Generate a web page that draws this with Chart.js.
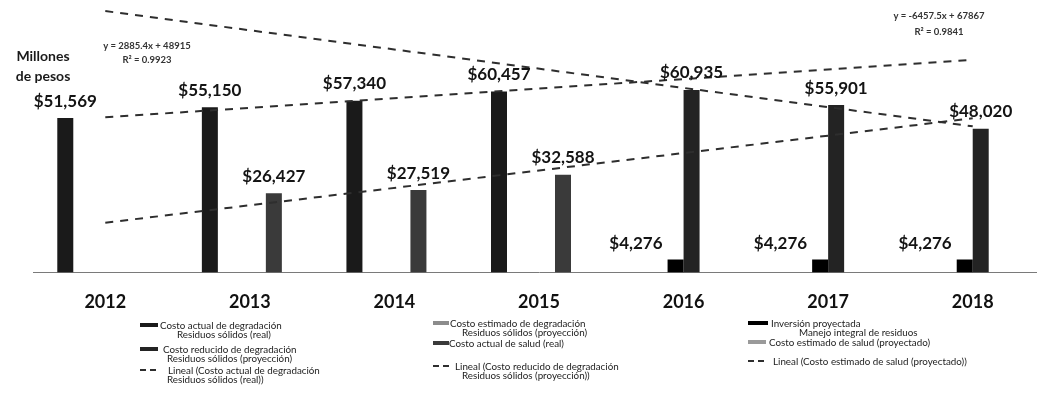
<!DOCTYPE html>
<html><head><meta charset="utf-8">
<script src="https://cdn.jsdelivr.net/npm/chart.js@4.4.1/dist/chart.umd.min.js"></script>
<style>
html,body{margin:0;padding:0;background:#fff;overflow:hidden;width:1037px;height:412px;}
#wrap{position:relative;width:1050px;height:412px;}
canvas{position:absolute;left:0;top:0;}
.t{position:absolute;font-family:Lato,"Noto Sans",sans-serif;color:#1a1a1a;white-space:nowrap;}
.units{left:14px;top:46px;font-weight:700;font-size:14px;line-height:20px;text-align:center;width:58px;}
.eq{font-size:9.5px;line-height:14px;text-align:center;font-weight:700;color:#333;}
.lg{font-size:9.8px;line-height:9px;color:#222;}
.mk{position:absolute;}
</style></head><body>
<div id="wrap">
<canvas id="c" width="1050" height="412"></canvas>
<div class="t units">Millones<br>de pesos</div>
<div class="t eq" style="left:95px;top:39px;width:104px;">y = 2885.4x + 48915<br>R² = 0.9923</div>
<div class="t eq" style="left:884px;top:8px;width:110px;line-height:16px;">y = -6457.5x + 67867<br>R² = 0.9841</div>
</div>
<script>
// ---------- data ----------
const years = ['2012','2013','2014','2015','2016','2017','2018'];
const costoActualDegradacion   = [51569, 55150, 57340, 60457, null, null, null];
const costoEstimadoDegradacion = [null, null, null, null, null, null, null];
const inversionProyectada      = [null, null, null, null, 4276, 4276, 4276];
const costoReducidoDegradacion = [null, null, null, null, 60935, 55901, 48020];
const costoActualSalud         = [null, 26427, 27519, 32588, null, null, null];
const costoEstimadoSalud       = [null, null, null, null, null, null, null];
// trend lines: end points
const linealActualDegradacion   = [51800, null, null, null, null, null, 71000];
const linealReducidoDegradacion = [87300, null, null, null, null, null, 48800];
const linealEstimadoSalud       = [16600, null, null, null, null, null, 51500];

const labels = {
  actual: 'Costo actual de degradación\nResiduos sólidos (real)',
  estimado: 'Costo estimado de degradación\nResiduos sólidos (proyección)',
  inversion: 'Inversión proyectada\nManejo integral de residuos',
  reducido: 'Costo reducido de degradación\nResiduos sólidos (proyección)',
  salud: 'Costo actual de salud (real)',
  saludEst: 'Costo estimado de salud (proyectado)',
  linActual: 'Lineal (Costo actual de degradación\nResiduos sólidos (real))',
  linReducido: 'Lineal (Costo reducido de degradación\nResiduos sólidos (proyección))',
  linSalud: 'Lineal (Costo estimado de salud (proyectado))'
};

const bar = (label, data, color) => ({type:'bar', label, data, backgroundColor:color, borderWidth:0,
  barPercentage:1.0, categoryPercentage:0.664});
const trend = (label, data) => ({type:'line', label, data, spanGaps:true, borderColor:'#2e2e2e',
  borderWidth:2, borderDash:[8,7], pointRadius:0, fill:false, order:-1, tension:0});

const datasets = [
  bar(labels.actual, costoActualDegradacion, '#1a1a1a'),
  bar(labels.estimado, costoEstimadoDegradacion, '#8c8c8c'),
  bar(labels.inversion, inversionProyectada, '#000000'),
  bar(labels.reducido, costoReducidoDegradacion, '#232323'),
  bar(labels.salud, costoActualSalud, '#3a3a3a'),
  bar(labels.saludEst, costoEstimadoSalud, '#9a9a9a'),
  trend(labels.linActual, linealActualDegradacion),
  trend(labels.linReducido, linealReducidoDegradacion),
  trend(labels.linSalud, linealEstimadoSalud)
];

const valueLabels = {
  id:'valueLabels',
  afterDatasetsDraw(chart){
    const ctx = chart.ctx;
    ctx.save();
    ctx.font = 'bold 17px Lato, "Noto Sans", sans-serif';
    ctx.fillStyle = '#141414';
    ctx.textBaseline = 'middle';
    chart.data.datasets.forEach((ds,i)=>{
      if(ds.type !== 'bar') return;
      const meta = chart.getDatasetMeta(i);
      meta.data.forEach((el,j)=>{
        const v = ds.data[j];
        if(v == null) return;
        const txt = '$' + v.toLocaleString('en-US');
        if(i === 2){
          ctx.textAlign = 'right';
          ctx.fillText(txt, el.x - el.width/2 - 5, el.y - 16);
        } else {
          ctx.textAlign = 'center';
          ctx.fillText(txt, el.x, el.y - 17);
        }
      });
    });
    ctx.restore();
  }
};

const chart = new Chart(document.getElementById('c'), {
  data:{labels:years, datasets},
  options:{
    responsive:false, animation:false,
    layout:{padding:{left:33, right:5, top:0, bottom:80}},
    plugins:{legend:{display:false}, tooltip:{enabled:false}, title:{display:false}},
    scales:{
      x:{grid:{display:false, drawTicks:false},
         border:{display:true, color:'#7a7a7a', width:1, dash:[2,2]},
         ticks:{color:'#111', padding:19, font:{family:'Lato, "Noto Sans", sans-serif', size:18, weight:'bold'}}},
      y:{display:false, min:0, max:91000}
    }
  },
  plugins:[valueLabels]
});

// ---------- HTML legend (3 columns, like the reference) ----------
const legendLayout = [
  {ds:0, mx:140, mw:18, tx:160, y:325, indent:17},
  {ds:3, mx:140, mw:18, tx:163, y:349, indent:4},
  {ds:6, mx:140, mw:16, tx:168, y:370, indent:-1},
  {ds:1, mx:433, mw:16, tx:450, y:323, indent:12},
  {ds:4, mx:433, mw:16, tx:449, y:343, indent:0},
  {ds:7, mx:433, mw:16, tx:455, y:366, indent:7},
  {ds:2, mx:748, mw:20, tx:771, y:323, indent:28},
  {ds:5, mx:748, mw:18, tx:769, y:342, indent:0},
  {ds:8, mx:748, mw:18, tx:773, y:361, indent:0}
];
const wrap = document.getElementById('wrap');
legendLayout.forEach(it=>{
  const ds = chart.data.datasets[it.ds];
  const mk = document.createElement('div');
  mk.className = 'mk';
  if(ds.type === 'bar'){
    mk.style.cssText = `left:${it.mx}px;top:${it.y-2}px;width:${it.mw}px;height:4px;background:${ds.backgroundColor};`;
  } else {
    mk.style.cssText = `left:${it.mx}px;top:${it.y-1}px;width:${it.mw}px;height:2px;background:repeating-linear-gradient(to right, ${ds.borderColor} 0 6px, transparent 6px 10px);`;
  }
  wrap.appendChild(mk);
  ds.label.split('\n').forEach((line,k)=>{
    const d = document.createElement('div');
    d.className = 't lg';
    d.textContent = line;
    d.style.left = (it.tx + (k ? it.indent : 0)) + 'px';
    d.style.top = (it.y - 4.5 + k*9) + 'px';
    wrap.appendChild(d);
  });
});
</script>
</body></html>
